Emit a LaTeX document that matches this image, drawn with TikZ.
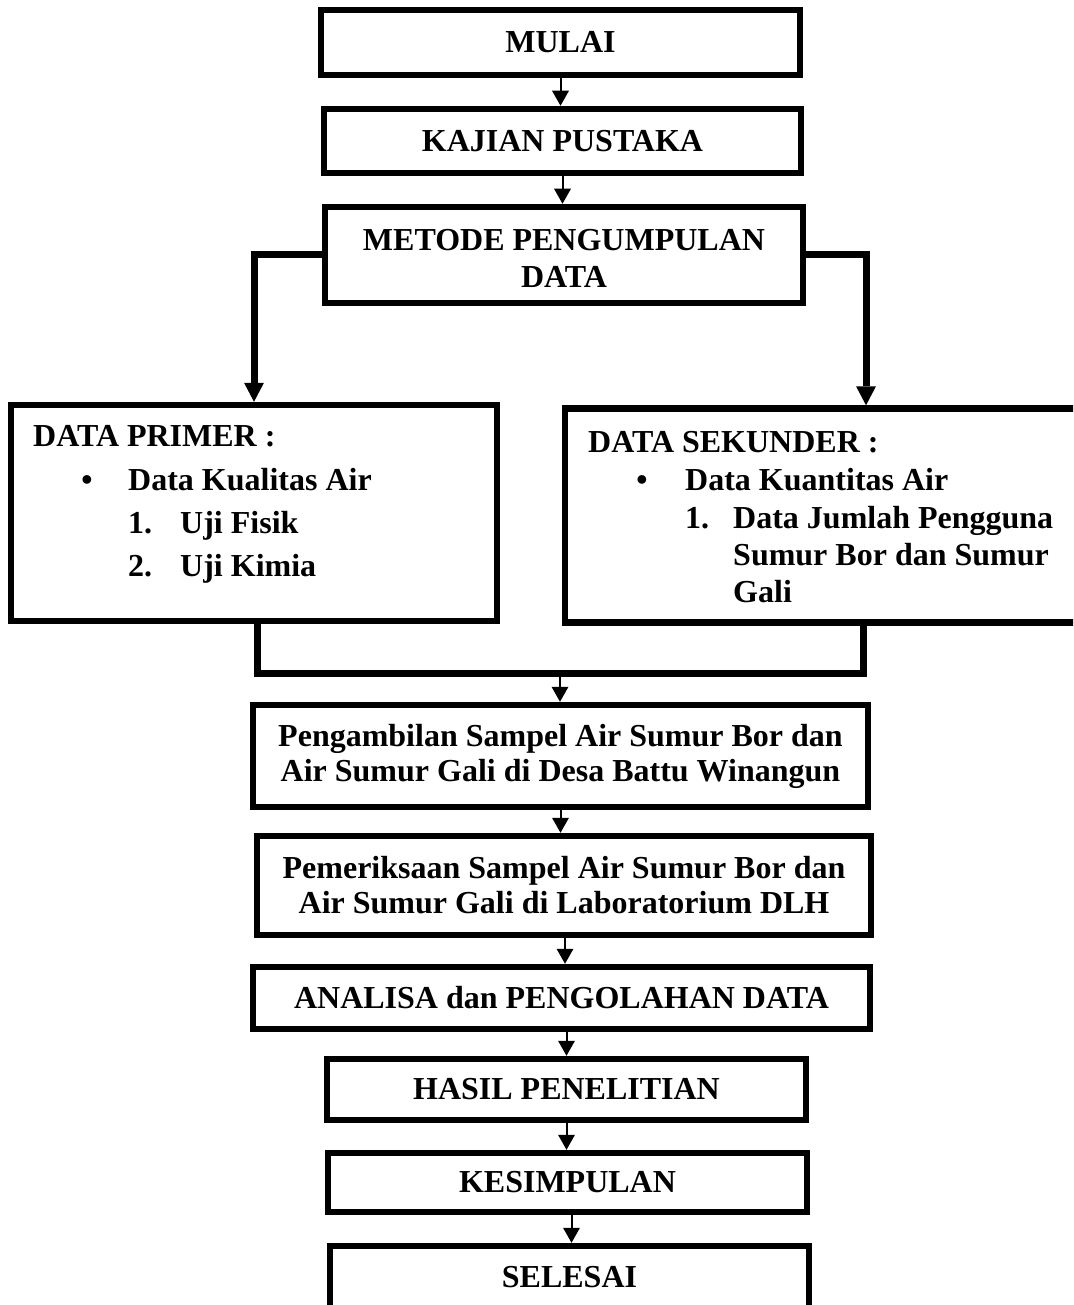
\documentclass[tikz,border=0pt]{standalone}
\usepackage{fontspec}
\setmainfont{Liberation Serif}
\usetikzlibrary{arrows.meta}
\tikzset{
  txt/.style={font=\fontsize{32}{35}\selectfont\bfseries},
  box/.style={draw=black, line width=6.5pt, fill=white, rectangle, inner sep=0pt, align=center, txt},
  lbl/.style={anchor=base west, inner sep=0pt, txt},
  bul/.style={anchor=base, inner sep=0pt, txt},
  arr/.style={line width=2pt, -{Triangle[width=17pt,length=15pt,line width=0pt]}},
  thk/.style={line width=7pt},
  thkarr/.style={line width=7pt, -{Triangle[width=20pt,length=19pt,line width=0pt]}},
}
\begin{document}
\begin{tikzpicture}[x=1pt,y=-1pt]
\useasboundingbox (0,0) rectangle (1073,1305);
\clip (0,0) rectangle (1073,1305);
\fill[white] (0,0) rectangle (1073,1305);

% main boxes
\node[box, minimum width=479pt, minimum height=65pt] (mulai) at (560.5,42.5) {MULAI};
\node[box, minimum width=477pt, minimum height=64pt] (kajian) at (562.5,141) {KAJIAN PUSTAKA};
\node[box, minimum width=478pt, minimum height=96pt, font=\fontsize{32}{37}\selectfont\bfseries] (metode) at (564,255) {\rule{0pt}{27.5pt}METODE PENGUMPULAN\\DATA};

\node[box, minimum width=486pt, minimum height=216pt] (primer) at (254,513) {};
\node[box, minimum width=520pt, minimum height=214pt] (sekunder) at (825,515.5) {};

\node[box, minimum width=615pt, minimum height=102pt] (peng) at (560.5,756) {Pengambilan Sampel Air Sumur Bor dan\\Air Sumur Gali di Desa Battu Winangun};
\node[box, minimum width=614pt, minimum height=99pt] (pem) at (564,885.5) {Pemeriksaan Sampel Air Sumur Bor dan\\Air Sumur Gali di Laboratorium DLH};
\node[box, minimum width=617pt, minimum height=62pt] (analisa) at (561.5,998) {ANALISA dan PENGOLAHAN DATA};
\node[box, minimum width=479pt, minimum height=61pt] (hasil) at (566.5,1089.5) {HASIL PENELITIAN};
\node[box, minimum width=479pt, minimum height=59pt] (kes) at (567.5,1182.5) {KESIMPULAN};
\node[box, minimum width=479pt, minimum height=63pt] (selesai) at (569.5,1277.5) {SELESAI};

% list texts: primer
\node[lbl] (p0) at (33,446) {DATA PRIMER :};
\node[bul] (pb) at (87,490) {•};
\node[lbl] (p1) at (128,490) {Data Kualitas Air};
\node[lbl] (p2n) at (128,533) {1.};
\node[lbl] (p2) at (180,533) {Uji Fisik};
\node[lbl] (p3n) at (128,576) {2.};
\node[lbl] (p3) at (180,576) {Uji Kimia};

% list texts: sekunder
\node[lbl] (s0) at (588,452) {DATA SEKUNDER :};
\node[bul] (sb) at (642,490) {•};
\node[lbl] (s1) at (685,490) {Data Kuantitas Air};
\node[lbl] (s2n) at (685,528) {1.};
\node[lbl] (s2) at (733,528) {Data Jumlah Pengguna};
\node[lbl] (s3) at (733,565) {Sumur Bor dan Sumur};
\node[lbl] (s4) at (733,602) {Gali};

% helper coordinates
\coordinate (bl) at (254,255);
\coordinate (br) at (866,255);
\coordinate (jl) at (257,673);
\coordinate (jr) at (863,673);
\coordinate (jm) at (560,673);

% connectors
\draw[arr] (mulai.south) -- (mulai.south |- kajian.north);
\draw[arr] (kajian.south) -- (kajian.south |- metode.north);
\draw[thkarr] (metode.west) -- (bl) -- (bl |- primer.north);
\draw[thkarr] (metode.east) -- (br) -- (br |- sekunder.north);
\draw[thk] (jl |- primer.south) -- (jl) -- (jr) -- (jr |- sekunder.south);
\draw[arr] (jm) -- (jm |- peng.north);
\draw[arr] (peng.south) -- (peng.south |- pem.north);
\draw[arr] ([xshift=1pt]pem.south) -- ([xshift=1pt]pem.south |- analisa.north);
\draw[arr] (hasil.north |- analisa.south) -- (hasil.north);
\draw[arr] (hasil.south) -- (hasil.south |- kes.north);
\draw[arr] ([xshift=4pt]kes.south) -- ([xshift=4pt]kes.south |- selesai.north);
\end{tikzpicture}
\end{document}
